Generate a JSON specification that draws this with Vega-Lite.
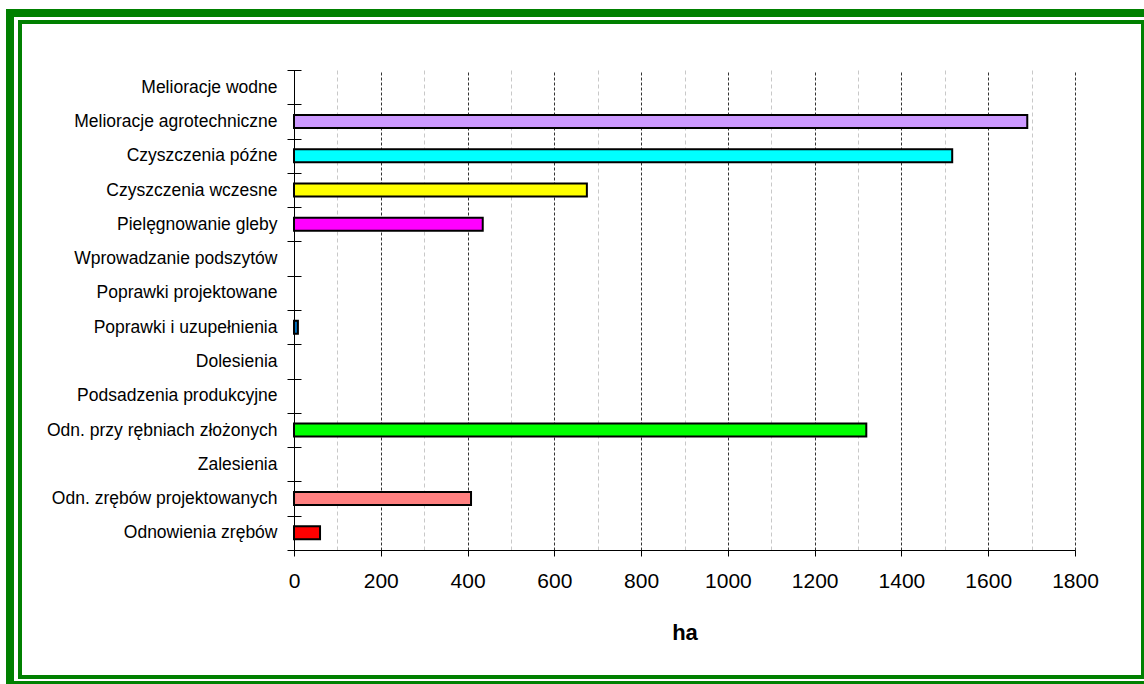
{
  "$schema": "https://vega.github.io/schema/vega-lite/v6.json",
  "width": 781,
  "height": 480,
  "autosize": {"type": "none"},
  "padding": {"left": 294, "top": 70, "right": 69, "bottom": 134},
  "background": "white",
  "config": {"view": {"stroke": null}, "font": "Liberation Sans"},
  "datasets": {
    "bars": [
      {"rodzaj": "Melioracje wodne", "ha": 0},
      {"rodzaj": "Melioracje agrotechniczne", "ha": 1690},
      {"rodzaj": "Czyszczenia późne", "ha": 1517},
      {"rodzaj": "Czyszczenia wczesne", "ha": 675},
      {"rodzaj": "Pielęgnowanie gleby", "ha": 435},
      {"rodzaj": "Wprowadzanie podszytów", "ha": 0},
      {"rodzaj": "Poprawki projektowane", "ha": 0},
      {"rodzaj": "Poprawki i uzupełnienia", "ha": 9},
      {"rodzaj": "Dolesienia", "ha": 0},
      {"rodzaj": "Podsadzenia produkcyjne", "ha": 0},
      {"rodzaj": "Odn. przy rębniach złożonych", "ha": 1319},
      {"rodzaj": "Zalesienia", "ha": 0},
      {"rodzaj": "Odn. zrębów projektowanych", "ha": 408},
      {"rodzaj": "Odnowienia zrębów", "ha": 60}
    ]
  },
  "layer": [
    {
      "data": {"name": "bars"},
      "transform": [{"filter": "datum.ha > 0"}],
      "mark": {"type": "bar", "stroke": "black", "strokeWidth": 2, "height": {"band": 0.38}},
      "encoding": {
        "y": {
          "field": "rodzaj",
          "type": "nominal",
          "sort": null,
          "scale": {
            "domain": ["Melioracje wodne", "Melioracje agrotechniczne", "Czyszczenia późne", "Czyszczenia wczesne", "Pielęgnowanie gleby", "Wprowadzanie podszytów", "Poprawki projektowane", "Poprawki i uzupełnienia", "Dolesienia", "Podsadzenia produkcyjne", "Odn. przy rębniach złożonych", "Zalesienia", "Odn. zrębów projektowanych", "Odnowienia zrębów"],
            "paddingInner": 0,
            "paddingOuter": 0
          },
          "axis": {
            "title": null,
            "orient": "left",
            "domain": false,
            "offset": -7,
            "tickSize": 14,
            "tickColor": "black",
            "tickBand": "extent",
            "grid": false,
            "labelFont": "Liberation Sans",
            "labelFontSize": 17.5,
            "labelColor": "black",
            "labelPadding": 10,
            "labelLimit": 400
          }
        },
        "x": {
          "field": "ha",
          "type": "quantitative",
          "scale": {"domain": [0, 1800], "nice": false, "zero": true},
          "axis": {
            "title": "ha",
            "values": [0, 100, 200, 300, 400, 500, 600, 700, 800, 900, 1000, 1100, 1200, 1300, 1400, 1500, 1600, 1700, 1800],
            "labelExpr": "datum.value % 200 === 0 ? datum.label : ''",
            "format": "d",
            "grid": true,
            "gridColor": {"condition": [{"test": "datum.value === 0", "value": "#000000"}, {"test": "datum.value % 200 === 0", "value": "#333333"}], "value": "#c8c8c8"},
            "gridDash": {"condition": [{"test": "datum.value === 0", "value": []}, {"test": "datum.value % 200 === 0", "value": [3, 2]}], "value": [4, 3]},
            "gridOpacity": 1,
            "gridWidth": 1,
            "tickSize": 6,
            "tickColor": "black",
            "tickOpacity": {"condition": {"test": "datum.value % 200 === 0", "value": 1}, "value": 0},
            "domainColor": "black",
            "labelFont": "Liberation Sans",
            "labelFontSize": 21,
            "labelColor": "black",
            "labelPadding": 14,
            "labelFlush": false,
            "labelOverlap": false,
            "titleFont": "Liberation Sans",
            "titleFontSize": 22,
            "titleFontWeight": "bold",
            "titleColor": "black",
            "titleY": 89,
            "titleBaseline": "alphabetic"
          }
        },
        "color": {
          "field": "rodzaj",
          "type": "nominal",
          "scale": {
            "domain": ["Melioracje agrotechniczne", "Czyszczenia późne", "Czyszczenia wczesne", "Pielęgnowanie gleby", "Poprawki i uzupełnienia", "Odn. przy rębniach złożonych", "Odn. zrębów projektowanych", "Odnowienia zrębów"],
            "range": ["#CC99FF", "#00FFFF", "#FFFF00", "#FF00FF", "#0070C0", "#00FF00", "#FF8080", "#FF0000"]
          },
          "legend": null
        }
      }
    },
    {
      "data": {"values": [{}]},
      "mark": {"type": "rect", "fill": "transparent", "stroke": "#008000", "strokeWidth": 4, "xOffset": -274, "yOffset": -48, "x2Offset": 68, "y2Offset": 127},
      "encoding": {"x": {"value": 0}, "x2": {"value": "width"}, "y": {"value": 0}, "y2": {"value": "height"}}
    },
    {
      "data": {"values": [{}]},
      "mark": {"type": "rect", "fill": "transparent", "stroke": "#008000", "strokeWidth": 8, "xOffset": -284, "yOffset": -57, "x2Offset": 78, "y2Offset": 135},
      "encoding": {"x": {"value": 0}, "x2": {"value": "width"}, "y": {"value": 0}, "y2": {"value": "height"}}
    }
  ]
}
